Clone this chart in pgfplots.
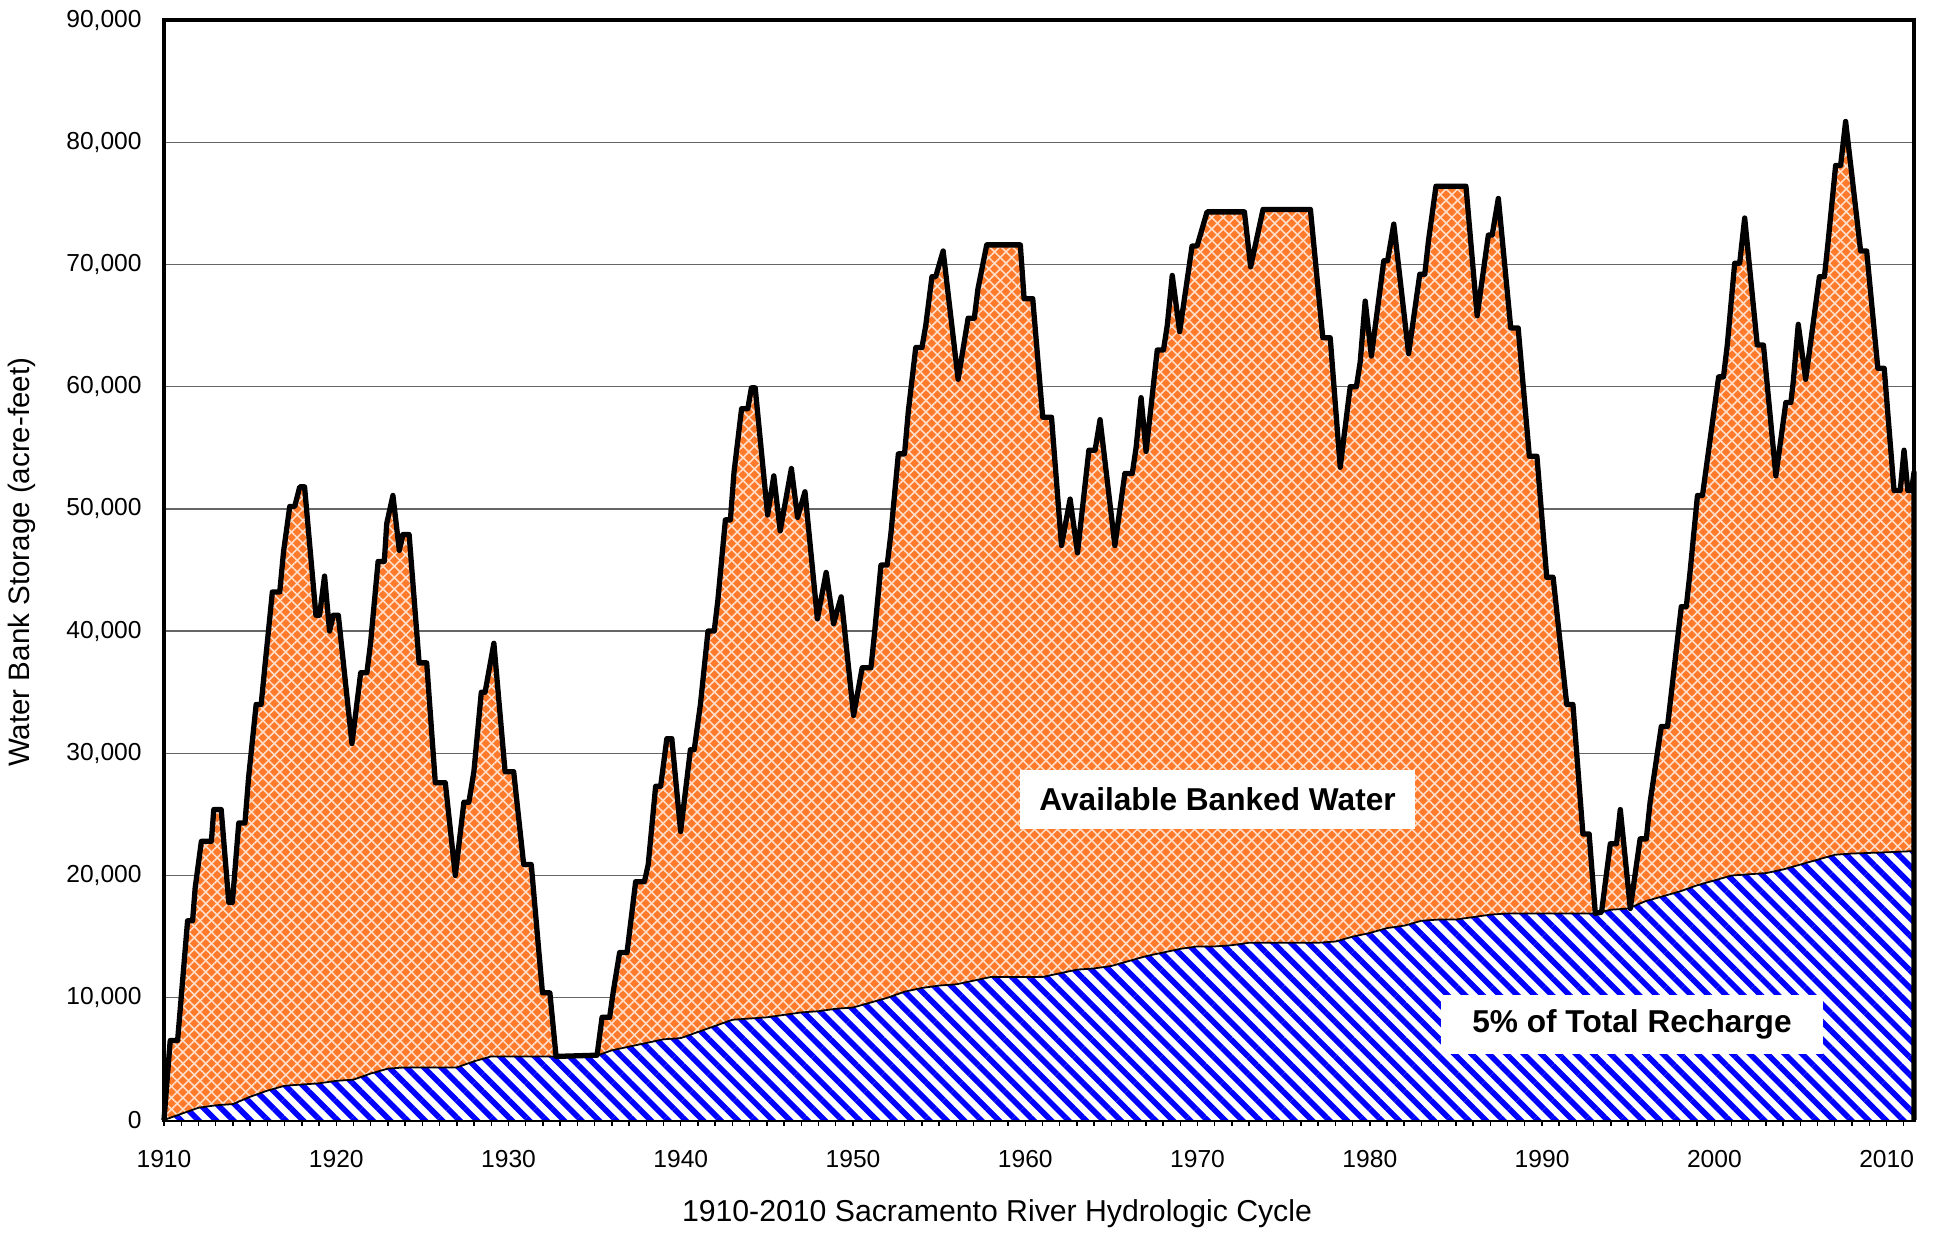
\documentclass[border=0pt]{standalone}
\usepackage{fontspec}
\setmainfont{Liberation Sans}
\usepackage{pgfplots}
\pgfplotsset{compat=1.18}
\usetikzlibrary{patterns.meta}
\definecolor{orng}{HTML}{FF7A2A}
\definecolor{bstripe}{HTML}{0000FF}
\begin{document}
\begin{tikzpicture}
\begin{axis}[
  scale only axis, width=17.5cm, height=11cm, clip=false,
  xmin=1910, xmax=2011.59, ymin=0, ymax=90000,
  xtick={1910,1920,...,2010},
  xticklabels={1910,1920,1930,1940,1950,1960,1970,1980,1990,2000,2010},
  minor xtick={1911,1912,...,2011},
  xtick pos=bottom,
  ytick={0,10000,...,90000},
  yticklabels={0,{10,000},{20,000},{30,000},{40,000},{50,000},{60,000},{70,000},{80,000},{90,000}},
  ymajorgrids, major grid style={draw=black!60, line width=0.4pt},
  axis line style={line width=0.9pt},
  xtick style={black, line width=0.4pt},
  ytick style={draw=none},
  tick align=outside,
  major tick length=0.06cm, minor tick length=0.06cm,
  tick label style={font=\fontsize{7}{8}\selectfont},
  xticklabel style={yshift=-0.12cm},
  yticklabel style={xshift=-0.04cm, inner ysep=0pt},
]
\addplot[draw=none, fill=orng,
  postaction={pattern={Lines[angle=45,distance=2.3pt,line width=0.45pt]}, pattern color=white!75!orng},
  postaction={pattern={Lines[angle=-45,distance=2.3pt,line width=0.45pt]}, pattern color=white!75!orng}]
coordinates {
(1910.00,0)(1910.36,6500)(1910.79,6500)(1911.37,16300)(1911.66,16300)(1911.81,19000)
(1912.17,22800)(1912.75,22800)(1912.89,25400)(1913.32,25400)(1913.76,17800)(1913.97,17800)
(1914.34,24300)(1914.70,24300)(1914.91,28000)(1915.35,34000)(1915.64,34000)(1915.85,37000)
(1916.29,43200)(1916.72,43200)(1916.94,46500)(1917.30,50200)(1917.59,50200)(1917.88,51800)
(1918.16,51800)(1918.82,41300)(1919.03,41300)(1919.32,44500)(1919.61,40000)(1919.83,41300)
(1920.12,41300)(1920.91,30800)(1921.42,36600)(1921.78,36600)(1921.99,39000)(1922.43,45700)
(1922.79,45700)(1922.93,48800)(1923.29,51100)(1923.66,46600)(1923.87,47900)(1924.23,47900)
(1924.81,37400)(1925.25,37400)(1925.75,27600)(1926.33,27600)(1926.91,20000)(1927.41,26000)
(1927.70,26000)(1927.99,28500)(1928.42,35000)(1928.64,35000)(1929.15,39000)(1929.80,28500)
(1930.30,28500)(1930.88,20900)(1931.32,20900)(1931.97,10400)(1932.40,10400)(1932.76,5200)
(1935.14,5300)(1935.43,8400)(1935.87,8400)(1936.08,10500)(1936.45,13700)(1936.88,13700)
(1937.38,19500)(1937.89,19500)(1938.11,20900)(1938.54,27300)(1938.83,27300)(1939.19,31200)
(1939.48,31200)(1939.99,23600)(1940.56,30300)(1940.78,30300)(1941.14,34000)(1941.58,40000)
(1941.94,40000)(1942.15,42500)(1942.59,49100)(1942.88,49100)(1943.09,53000)(1943.53,58200)
(1943.89,58200)(1944.10,59900)(1944.32,59900)(1945.04,49500)(1945.40,52700)(1945.77,48200)
(1946.42,53300)(1946.78,49300)(1947.21,51400)(1947.93,41000)(1948.44,44800)(1948.87,40600)
(1949.31,42800)(1950.03,33100)(1950.53,37000)(1951.04,37000)(1951.26,40000)(1951.62,45400)
(1951.98,45400)(1952.20,48000)(1952.63,54500)(1952.99,54500)(1953.21,58000)(1953.64,63200)
(1954.00,63200)(1954.22,65000)(1954.58,69000)(1954.80,69000)(1955.23,71100)(1956.10,60600)
(1956.68,65600)(1957.04,65600)(1957.25,68000)(1957.76,71600)(1959.71,71600)(1959.93,67200)
(1960.43,67200)(1961.01,57500)(1961.52,57500)(1962.10,47000)(1962.60,50800)(1963.03,46400)
(1963.69,54800)(1964.05,54800)(1964.34,57300)(1965.20,47000)(1965.78,52900)(1966.21,52900)
(1966.43,55000)(1966.72,59100)(1967.01,54700)(1967.66,63000)(1968.02,63000)(1968.24,65000)
(1968.53,69100)(1968.96,64500)(1969.68,71500)(1969.97,71500)(1970.55,74300)(1972.72,74300)
(1973.08,69800)(1973.80,74500)(1976.55,74500)(1977.27,64000)(1977.70,64000)(1978.28,53400)
(1978.86,60000)(1979.22,60000)(1979.44,62000)(1979.73,67000)(1980.09,62500)(1980.81,70300)
(1981.03,70300)(1981.39,73300)(1982.25,62700)(1982.90,69200)(1983.19,69200)(1983.41,72000)
(1983.84,76400)(1985.58,76400)(1986.23,65800)(1986.88,72400)(1987.10,72400)(1987.46,75400)
(1988.18,64800)(1988.61,64800)(1989.26,54300)(1989.70,54300)(1990.27,44400)(1990.64,44400)
(1991.43,34000)(1991.79,34000)(1992.37,23400)(1992.73,23400)(1993.09,16900)(1993.45,17000)
(1993.96,22600)(1994.32,22600)(1994.54,25400)(1995.12,17300)(1995.69,23000)(1996.05,23000)
(1996.27,26000)(1996.92,32200)(1997.28,32200)(1998.08,42000)(1998.37,42000)(1998.58,44700)
(1999.02,51100)(1999.31,51100)(2000.25,60800)(2000.53,60800)(2000.75,63400)(2001.18,70100)
(2001.47,70100)(2001.76,73800)(2002.49,63400)(2002.85,63400)(2003.57,52700)(2004.15,58700)
(2004.44,58700)(2004.58,60400)(2004.87,65100)(2005.30,60600)(2006.10,69000)(2006.39,69000)
(2006.60,71800)(2007.04,78100)(2007.33,78100)(2007.62,81700)(2008.49,71100)(2008.84,71100)
(2009.49,61500)(2009.86,61500)(2010.43,51500)(2010.79,51500)(2011.01,54800)(2011.23,51500)
(2011.45,51500)(2011.59,53000)
} \closedcycle;
\addplot[draw=none, fill=white,
  postaction={pattern={Lines[angle=-45,distance=3.5pt,line width=1.6pt]}, pattern color=bstripe}]
coordinates {
(1910,0)(1911,500)(1912,1000)(1913,1200)(1914,1300)(1915,1900)(1916,2400)(1917,2800)(1918,2900)
(1919,3000)(1920,3200)(1921,3300)(1922,3800)(1923,4200)(1924,4300)(1927,4300)(1928,4800)(1929,5200)
(1935,5200)(1936,5700)(1937,6000)(1938,6300)(1939,6600)(1940,6700)(1941,7200)(1942,7700)(1943,8200)
(1944,8300)(1945,8400)(1946,8600)(1947,8800)(1948,8900)(1949,9100)(1950,9200)(1951,9600)(1952,10000)
(1953,10500)(1954,10800)(1955,11000)(1956,11100)(1957,11400)(1958,11700)(1961,11700)(1962,12000)
(1963,12300)(1964,12400)(1965,12600)(1966,13000)(1967,13400)(1968,13700)(1969,14000)(1970,14200)
(1971,14200)(1972,14300)(1973,14500)(1977,14500)(1978,14600)(1979,15000)(1980,15300)(1981,15700)
(1982,15900)(1983,16300)(1984,16400)(1985,16400)(1986,16600)(1987,16800)(1988,16900)(1993,16900)
(1994,17200)(1995,17300)(1996,17900)(1997,18300)(1998,18700)(1999,19200)(2000,19600)(2001,20000)
(2002,20100)(2003,20200)(2004,20500)(2005,20900)(2006,21300)(2007,21700)(2008,21800)(2010,21900)
(2011.59,22000)
} \closedcycle;
\addplot[black, line width=0.5pt] coordinates {
(1910,0)(1911,500)(1912,1000)(1913,1200)(1914,1300)(1915,1900)(1916,2400)(1917,2800)(1918,2900)
(1919,3000)(1920,3200)(1921,3300)(1922,3800)(1923,4200)(1924,4300)(1927,4300)(1928,4800)(1929,5200)
(1935,5200)(1936,5700)(1937,6000)(1938,6300)(1939,6600)(1940,6700)(1941,7200)(1942,7700)(1943,8200)
(1944,8300)(1945,8400)(1946,8600)(1947,8800)(1948,8900)(1949,9100)(1950,9200)(1951,9600)(1952,10000)
(1953,10500)(1954,10800)(1955,11000)(1956,11100)(1957,11400)(1958,11700)(1961,11700)(1962,12000)
(1963,12300)(1964,12400)(1965,12600)(1966,13000)(1967,13400)(1968,13700)(1969,14000)(1970,14200)
(1971,14200)(1972,14300)(1973,14500)(1977,14500)(1978,14600)(1979,15000)(1980,15300)(1981,15700)
(1982,15900)(1983,16300)(1984,16400)(1985,16400)(1986,16600)(1987,16800)(1988,16900)(1993,16900)
(1994,17200)(1995,17300)(1996,17900)(1997,18300)(1998,18700)(1999,19200)(2000,19600)(2001,20000)
(2002,20100)(2003,20200)(2004,20500)(2005,20900)(2006,21300)(2007,21700)(2008,21800)(2010,21900)
(2011.59,22000)
};
\addplot[black, line width=1.5pt, line join=round] coordinates {
(1910.00,0)(1910.36,6500)(1910.79,6500)(1911.37,16300)(1911.66,16300)(1911.81,19000)
(1912.17,22800)(1912.75,22800)(1912.89,25400)(1913.32,25400)(1913.76,17800)(1913.97,17800)
(1914.34,24300)(1914.70,24300)(1914.91,28000)(1915.35,34000)(1915.64,34000)(1915.85,37000)
(1916.29,43200)(1916.72,43200)(1916.94,46500)(1917.30,50200)(1917.59,50200)(1917.88,51800)
(1918.16,51800)(1918.82,41300)(1919.03,41300)(1919.32,44500)(1919.61,40000)(1919.83,41300)
(1920.12,41300)(1920.91,30800)(1921.42,36600)(1921.78,36600)(1921.99,39000)(1922.43,45700)
(1922.79,45700)(1922.93,48800)(1923.29,51100)(1923.66,46600)(1923.87,47900)(1924.23,47900)
(1924.81,37400)(1925.25,37400)(1925.75,27600)(1926.33,27600)(1926.91,20000)(1927.41,26000)
(1927.70,26000)(1927.99,28500)(1928.42,35000)(1928.64,35000)(1929.15,39000)(1929.80,28500)
(1930.30,28500)(1930.88,20900)(1931.32,20900)(1931.97,10400)(1932.40,10400)(1932.76,5200)
(1935.14,5300)(1935.43,8400)(1935.87,8400)(1936.08,10500)(1936.45,13700)(1936.88,13700)
(1937.38,19500)(1937.89,19500)(1938.11,20900)(1938.54,27300)(1938.83,27300)(1939.19,31200)
(1939.48,31200)(1939.99,23600)(1940.56,30300)(1940.78,30300)(1941.14,34000)(1941.58,40000)
(1941.94,40000)(1942.15,42500)(1942.59,49100)(1942.88,49100)(1943.09,53000)(1943.53,58200)
(1943.89,58200)(1944.10,59900)(1944.32,59900)(1945.04,49500)(1945.40,52700)(1945.77,48200)
(1946.42,53300)(1946.78,49300)(1947.21,51400)(1947.93,41000)(1948.44,44800)(1948.87,40600)
(1949.31,42800)(1950.03,33100)(1950.53,37000)(1951.04,37000)(1951.26,40000)(1951.62,45400)
(1951.98,45400)(1952.20,48000)(1952.63,54500)(1952.99,54500)(1953.21,58000)(1953.64,63200)
(1954.00,63200)(1954.22,65000)(1954.58,69000)(1954.80,69000)(1955.23,71100)(1956.10,60600)
(1956.68,65600)(1957.04,65600)(1957.25,68000)(1957.76,71600)(1959.71,71600)(1959.93,67200)
(1960.43,67200)(1961.01,57500)(1961.52,57500)(1962.10,47000)(1962.60,50800)(1963.03,46400)
(1963.69,54800)(1964.05,54800)(1964.34,57300)(1965.20,47000)(1965.78,52900)(1966.21,52900)
(1966.43,55000)(1966.72,59100)(1967.01,54700)(1967.66,63000)(1968.02,63000)(1968.24,65000)
(1968.53,69100)(1968.96,64500)(1969.68,71500)(1969.97,71500)(1970.55,74300)(1972.72,74300)
(1973.08,69800)(1973.80,74500)(1976.55,74500)(1977.27,64000)(1977.70,64000)(1978.28,53400)
(1978.86,60000)(1979.22,60000)(1979.44,62000)(1979.73,67000)(1980.09,62500)(1980.81,70300)
(1981.03,70300)(1981.39,73300)(1982.25,62700)(1982.90,69200)(1983.19,69200)(1983.41,72000)
(1983.84,76400)(1985.58,76400)(1986.23,65800)(1986.88,72400)(1987.10,72400)(1987.46,75400)
(1988.18,64800)(1988.61,64800)(1989.26,54300)(1989.70,54300)(1990.27,44400)(1990.64,44400)
(1991.43,34000)(1991.79,34000)(1992.37,23400)(1992.73,23400)(1993.09,16900)(1993.45,17000)
(1993.96,22600)(1994.32,22600)(1994.54,25400)(1995.12,17300)(1995.69,23000)(1996.05,23000)
(1996.27,26000)(1996.92,32200)(1997.28,32200)(1998.08,42000)(1998.37,42000)(1998.58,44700)
(1999.02,51100)(1999.31,51100)(2000.25,60800)(2000.53,60800)(2000.75,63400)(2001.18,70100)
(2001.47,70100)(2001.76,73800)(2002.49,63400)(2002.85,63400)(2003.57,52700)(2004.15,58700)
(2004.44,58700)(2004.58,60400)(2004.87,65100)(2005.30,60600)(2006.10,69000)(2006.39,69000)
(2006.60,71800)(2007.04,78100)(2007.33,78100)(2007.62,81700)(2008.49,71100)(2008.84,71100)
(2009.49,61500)(2009.86,61500)(2010.43,51500)(2010.79,51500)(2011.01,54800)(2011.23,51500)
(2011.45,51500)(2011.59,53000)(2011.59,0)
};
\node[fill=white, font=\bfseries\fontsize{9}{10}\selectfont, minimum width=3.95cm, minimum height=0.59cm, inner sep=0pt]
  at (axis cs:1971.16,26222) {Available Banked Water};
\node[fill=white, font=\bfseries\fontsize{9}{10}\selectfont, minimum width=3.82cm, minimum height=0.59cm, inner sep=0pt]
  at (axis cs:1995.22,7814) {5\% of Total Recharge};
\node[rotate=90, font=\fontsize{8.4}{10}\selectfont] at (axis description cs:-0.0811,0.507) {Water Bank Storage (acre-feet)};
\node[font=\fontsize{8.6}{10}\selectfont] at (axis description cs:0.476,-0.0855) {1910-2010 Sacramento River Hydrologic Cycle};
\end{axis}
\pgfresetboundingbox
\path ([xshift=-1.64cm,yshift=-1.15cm]current axis.south west) rectangle ([xshift=0.37cm,yshift=0.20cm]current axis.north east);
\end{tikzpicture}
\end{document}
